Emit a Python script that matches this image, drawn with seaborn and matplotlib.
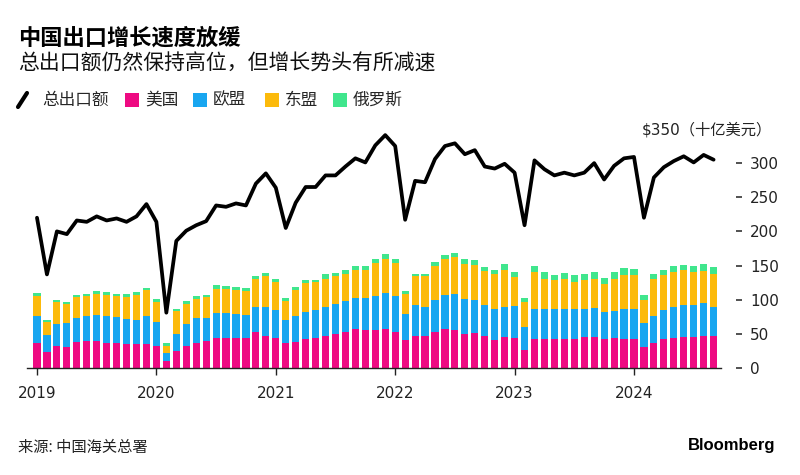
import numpy as np
import pandas as pd
import matplotlib
matplotlib.use("Agg")
import matplotlib.pyplot as plt
from matplotlib.lines import Line2D
from matplotlib.patches import Rectangle
import seaborn as sns

# monthly, Jan 2019 - Sep 2024, billions of USD
years = ["2019", "2020", "2021", "2022", "2023", "2024"]

total = [220, 137, 200, 196, 216, 214, 222, 216, 219, 214, 222, 240,
         214, 81, 186, 201, 209, 215, 238, 236, 241, 238, 270, 285,
         264, 205, 242, 265, 265, 282, 282, 295, 307, 301, 326, 341,
         325, 217, 274, 272, 306, 325, 329, 313, 319, 295, 292, 299,
         286, 209, 304, 291, 282, 286, 282, 286, 300, 276, 296, 307,
         309, 220, 279, 294, 303, 310, 301, 312, 305]

us = [36, 23, 32, 31, 37.7, 39.7, 40, 37, 36.8, 35.8, 35.3, 34.8,
      32.8, 10.8, 25.5, 32, 37, 40, 43.6, 44.6, 43.6, 43.6, 52, 47,
      44.6, 36.3, 38.7, 42, 44.6, 47, 49.5, 52, 57.8, 55, 55.4, 57,
      52, 40.7, 47, 46.6, 52, 56.4, 56, 50, 51, 47.5, 41, 46,
      44, 26.5, 42, 42, 42, 42, 42.6, 45, 46, 43, 44, 42.6,
      43, 31.4, 37, 42.6, 44, 46, 46, 47.5, 47.5]

eu = [39.5, 26, 32.7, 34.7, 35.3, 35.8, 37.5, 39, 37.7, 36.2, 35.3, 40.7,
      34.8, 10.8, 24.5, 32.7, 36, 33.5, 37.4, 36.4, 35.4, 34.4, 38, 42,
      40.4, 34.3, 36.8, 40, 40.4, 43, 44.1, 46.5, 44.7, 48, 50.6, 53,
      53, 38.7, 45.6, 43.1, 48, 50.6, 53, 51.5, 48, 44.2, 45, 43,
      47, 33.5, 45, 45, 45, 45, 43.4, 42, 41.7, 39, 40, 43.4,
      44, 34.3, 39.5, 42.4, 44.7, 46, 46, 47.1, 42.2]

asean = [30.5, 17.7, 32.3, 28.3, 31, 30.5, 31.5, 31, 30.5, 32, 36.4, 38.2,
         29.4, 11.2, 33, 29.3, 28.5, 30.5, 35, 35, 35, 34, 40, 45,
         40.5, 27.9, 39.2, 42.5, 40.5, 41, 40.4, 39.5, 41.1, 40, 47, 50,
         48, 28.6, 41.4, 44.3, 50, 53, 54, 51, 52.5, 50, 51, 55,
         42, 36, 53, 44, 41.4, 43, 40.5, 41.4, 43.3, 41.5, 46, 50,
         49, 33.3, 53.5, 51, 51.3, 51, 48, 47.4, 47.3]

russia = [4, 3, 2.5, 3, 3, 3, 3, 4, 3, 4, 4, 4,
          4, 4.2, 3.8, 4, 3.5, 3, 5, 4.6, 4, 5, 4, 5,
          4.5, 4, 3.9, 4.9, 3.9, 6, 5, 6, 6.4, 6, 7, 7.6,
          7, 5, 4, 4, 5, 5, 6, 6.5, 6.5, 6.3, 7, 8,
          7.7, 7, 9, 9.7, 8.4, 9, 10.3, 9.6, 10, 8.5, 10, 10.6,
          9.6, 8, 7, 8, 9, 8.5, 9, 10, 10.5]

series_names = ["美国", "欧盟", "东盟", "俄罗斯"]
series_colors = ["#EE0A82", "#18A6F0", "#FCBA0B", "#40E68D"]

df = pd.DataFrame({"month": np.arange(len(total)), "total": total,
                   "us": us, "eu": eu, "asean": asean, "russia": russia})
# cumulative tops for stacking
df["s1"] = df["us"]
df["s2"] = df["s1"] + df["eu"]
df["s3"] = df["s2"] + df["asean"]
df["s4"] = df["s3"] + df["russia"]

sns.set_theme(style="white")
plt.rcParams["font.family"] = ["DejaVu Sans", "Noto Sans CJK SC"]
cjk = ["Noto Sans CJK SC", "DejaVu Sans"]

fig = plt.figure(figsize=(8, 4.75), dpi=100)
ax = fig.add_axes([0.0338, 0.2253, 0.8669, 0.5032])

# draw tallest stack first, then cover with the lower ones
for col, color in zip(["s4", "s3", "s2", "s1"], series_colors[::-1]):
    sns.barplot(data=df, x="month", y=col, color=color, saturation=1,
                width=0.72, native_scale=True, linewidth=0, ax=ax)

sns.lineplot(data=df, x="month", y="total", color="black", linewidth=2.7, ax=ax)

ax.set_xlim(-1.0, 68.7)
ax.set_ylim(0, 350)
ax.set_xlabel("")
ax.set_ylabel("")
ax.set_xticks(np.arange(0, 61, 12))
ax.set_xticklabels(years)
ax.yaxis.tick_right()
ax.set_yticks(np.arange(0, 301, 50))
ax.set_yticklabels([str(v) for v in range(0, 301, 50)])

for s in ["left", "top"]:
    ax.spines[s].set_visible(False)
ax.spines["right"].set_position(("outward", 10.8))
ax.spines["right"].set_color("none")
ax.spines["bottom"].set_color("#222222")
ax.spines["bottom"].set_linewidth(1.0)

ax.tick_params(axis="x", bottom=True, length=5, width=1, pad=8,
               labelsize=11, color="#222222", labelcolor="#222222")
ax.tick_params(axis="y", right=True, left=False, length=4.3, width=1.2, pad=6,
               labelsize=11, color="#333333", labelcolor="#222222")

fig.text(0.965, 0.726, "$350（十亿美元）", ha="right", va="center",
         fontsize=11, color="#222222")

# title block
fig.text(0.0225, 0.92, "中国出口增长速度放缓", family=cjk, fontsize=16,
         fontweight="bold", va="center", color="black")
fig.text(0.0225, 0.867, "总出口额仍然保持高位，但增长势头有所减速", family=cjk,
         fontsize=15, va="center", color="#111111")

# legend
ly = 0.7895
fig.add_artist(Line2D([18 / 800, 27 / 800], [(475 - 107) / 475, (475 - 93) / 475],
                      color="black", lw=3, transform=fig.transFigure))
fig.text(42 / 800, ly, "总出口额", family=cjk, fontsize=12, va="center")
for name, color, x0 in zip(series_names, series_colors, [125, 193, 265, 333]):
    fig.add_artist(Rectangle((x0 / 800, (475 - 107) / 475), 14 / 800, 14 / 475,
                             facecolor=color, edgecolor="none",
                             transform=fig.transFigure))
    fig.text((x0 + 20) / 800, ly, name, family=cjk, fontsize=12, va="center")

# footer
fig.text(0.0225, 0.059, "来源: 中国海关总署", family=cjk, fontsize=11,
         va="center", color="#222222")
fig.text(0.969, 0.062, "Bloomberg", family=["Liberation Sans"], fontsize=12,
         fontweight="bold", ha="right", va="center", color="black")

fig.savefig("out.png", dpi=100)
